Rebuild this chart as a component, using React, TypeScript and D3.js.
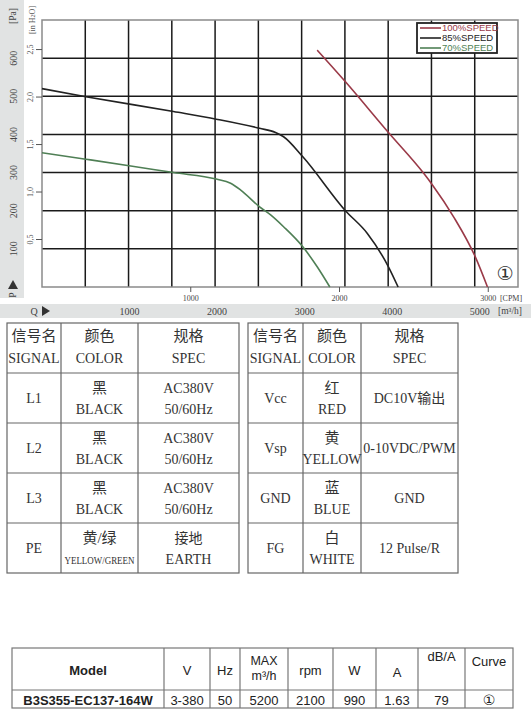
import React from "react";
import * as d3 from "d3";

// ---------- data ----------
const speed100Cfm = [1850, 2040, 2329, 2566, 2626, 2767, 2913, 2995];
const speed100Pa = [621, 538, 405, 298, 267, 184, 79, 0];
const speed85Cfm = [0, 295, 884, 1172, 1463, 1570, 1624, 1752, 2040, 2186, 2329, 2394];
const speed85Pa = [520, 499, 460, 440, 416, 405, 394, 342, 200, 141, 53, 0];
const speed70Cfm = [0, 295, 586, 884, 1172, 1268, 1336, 1463, 1537, 1624, 1752, 1850, 1935];
const speed70Pa = [352, 335, 318, 300, 283, 272, 254, 210, 189, 158, 106, 53, 0];

const seriesNames = ["100%SPEED", "85%SPEED", "70%SPEED"];
const paTicks = [100, 200, 300, 400, 500, 600];
const inH2OTicks = [0.5, 1.0, 1.5, 2.0, 2.5];
const cfmTicks = [1000, 2000, 3000];
const m3hTicks = [1000, 2000, 3000, 4000, 5000];

const leftHeader = [["信号名", "SIGNAL"], ["颜色", "COLOR"], ["规格", "SPEC"]];
const leftRows = [
  ["L1", "黑", "BLACK", "AC380V", "50/60Hz"],
  ["L2", "黑", "BLACK", "AC380V", "50/60Hz"],
  ["L3", "黑", "BLACK", "AC380V", "50/60Hz"],
  ["PE", "黄/绿", "YELLOW/GREEN", "接地", "EARTH"],
];
const rightRows = [
  ["Vcc", "红", "RED", "DC10V输出", ""],
  ["Vsp", "黄", "YELLOW", "0-10VDC/PWM", ""],
  ["GND", "蓝", "BLUE", "GND", ""],
  ["FG", "白", "WHITE", "12 Pulse/R", ""],
];
const specHeader = ["Model", "V", "Hz", "MAX\nm³/h", "rpm", "W", "A", "dB/A", "Curve"];
const specValues = ["B3S355-EC137-164W", "3-380", "50", "5200", "2100", "990", "1.63", "79", "①"];

// ---------- layout ----------
const W = 531, H = 718;
const plot = { left: 42, right: 518, top: 20, bottom: 287 };
const colors = ["#9a3a48", "#222222", "#4f7f55"];
const serif = "'Liberation Serif', 'DejaVu Serif', 'Noto Sans CJK SC', serif";
const sans = "'Liberation Sans', Arial, sans-serif";

export default function App() {
  const x = d3.scaleLinear().domain([0, 3200]).range([plot.left, plot.right]);
  const y = d3.scaleLinear().domain([0, 700]).range([plot.bottom, plot.top]);
  const line = d3
    .line<[number, number]>()
    .x((d) => x(d[0]))
    .y((d) => y(d[1]))
    .curve(d3.curveMonotoneX);
  const series = [
    d3.zip(speed100Cfm, speed100Pa) as [number, number][],
    d3.zip(speed85Cfm, speed85Pa) as [number, number][],
    d3.zip(speed70Cfm, speed70Pa) as [number, number][],
  ];
  const gridX = d3.range(1, 11).map((i) => plot.left + ((plot.right - plot.left) * i) / 11);
  const CFM_PER_M3H = 1 / 1.699;

  const lt = { x: [7, 61, 138, 239], top: 323, header: 373, rowH: 50 };
  const rt = { x: [248, 303, 361, 458], top: 323, header: 373, rowH: 50 };

  const drawTable = (t: typeof lt, rows: string[][], key: string) => {
    const bottom = t.header + rows.length * t.rowH;
    const els: React.ReactNode[] = [];
    els.push(
      <rect key={key + "b"} x={t.x[0]} y={t.top} width={t.x[3] - t.x[0]} height={bottom - t.top}
        fill="none" stroke="#666" strokeWidth={1.2} />
    );
    t.x.slice(1, 3).forEach((cx, i) =>
      els.push(<line key={key + "v" + i} x1={cx} x2={cx} y1={t.top} y2={bottom} stroke="#666" strokeWidth={1.2} />)
    );
    rows.forEach((_, i) =>
      els.push(<line key={key + "h" + i} x1={t.x[0]} x2={t.x[3]} y1={t.header + i * t.rowH} y2={t.header + i * t.rowH} stroke="#666" strokeWidth={1.2} />)
    );
    leftHeader.forEach((h, i) => {
      const cx = (t.x[i] + t.x[i + 1]) / 2;
      els.push(<text key={key + "hc" + i} x={cx} y={341} textAnchor="middle" fontSize={15} fill="#333" fontFamily={serif}>{h[0]}</text>);
      els.push(<text key={key + "he" + i} x={cx} y={363} textAnchor="middle" fontSize={14} fill="#333" fontFamily={serif}>{h[1]}</text>);
    });
    rows.forEach((r, i) => {
      const top = t.header + i * t.rowH;
      const c0 = (t.x[0] + t.x[1]) / 2, c1 = (t.x[1] + t.x[2]) / 2, c2 = (t.x[2] + t.x[3]) / 2;
      const long = r[2].length > 8;
      els.push(<text key={key + "s" + i} x={c0} y={top + 30} textAnchor="middle" fontSize={14} fill="#333" fontFamily={serif}>{r[0]}</text>);
      els.push(<text key={key + "cc" + i} x={c1} y={top + 20} textAnchor="middle" fontSize={15} fill="#333" fontFamily={serif}>{r[1]}</text>);
      els.push(
        <text key={key + "ce" + i} x={c1} y={top + 41} textAnchor="middle" fontSize={long ? 11 : 14} fill="#333" fontFamily={serif}
          {...(long ? { textLength: 70, lengthAdjust: "spacingAndGlyphs" } : {})}>{r[2]}</text>
      );
      if (r[4]) {
        els.push(<text key={key + "p1" + i} x={c2} y={top + 20} textAnchor="middle" fontSize={14} fill="#333" fontFamily={serif}>{r[3]}</text>);
        els.push(<text key={key + "p2" + i} x={c2} y={top + 41} textAnchor="middle" fontSize={14} fill="#333" fontFamily={serif}>{r[4]}</text>);
      } else {
        els.push(<text key={key + "p" + i} x={c2} y={top + 30} textAnchor="middle" fontSize={14} fill="#333" fontFamily={serif}>{r[3]}</text>);
      }
    });
    return els;
  };

  const specX = [12, 164, 210, 240, 288, 333, 376, 418, 465, 513];
  const specTop = 648, specMid = 690, specBottom = 708;

  return (
    <svg width={W} height={H} style={{ position: "absolute", left: 0, top: 0, background: "#fff" }}>
      {/* side bands */}
      <rect x={0} y={0} width={24} height={298} fill="#e1e3e3" />
      <rect x={0} y={304} width={531} height={14} fill="#e1e3e3" />

      {/* grid */}
      {gridX.map((gx, i) => (
        <line key={"gx" + i} x1={gx} x2={gx} y1={plot.top} y2={plot.bottom} stroke="#1a1a1a" strokeWidth={1.5} />
      ))}
      {paTicks.map((p) => (
        <line key={"gy" + p} x1={plot.left} x2={plot.right} y1={y(p)} y2={y(p)} stroke="#1a1a1a" strokeWidth={1.5} />
      ))}
      <rect x={plot.left} y={plot.top} width={plot.right - plot.left} height={plot.bottom - plot.top}
        fill="none" stroke="#8a8a8a" strokeWidth={1.5} />

      {/* curves */}
      {series.map((s, i) => (
        <path key={"s" + i} d={line(s) || ""} fill="none" stroke={colors[i]} strokeWidth={1.6} />
      ))}

      {/* legend */}
      <rect x={417} y={23} width={80} height={30} fill="#fff" stroke="#222" strokeWidth={1.8} />
      {seriesNames.map((n, i) => (
        <g key={"lg" + i}>
          <line x1={420} x2={441} y1={28 + i * 10} y2={28 + i * 10} stroke={colors[i]} strokeWidth={1.6} />
          <text x={442} y={28 + i * 10} dy="0.35em" fontSize={9.5} fill={colors[i]} fontFamily={sans}>{n}</text>
        </g>
      ))}

      {/* curve number */}
      <text x={505} y={273} dy="0.35em" textAnchor="middle" fontSize={19} fill="#333" fontFamily="'DejaVu Sans', sans-serif">①</text>

      {/* Pa axis (left band) */}
      {paTicks.map((p) => (
        <text key={"pa" + p} transform={`translate(13,${y(p)}) rotate(-90)`} textAnchor="middle" dy="0.35em"
          fontSize={10} fill="#444" fontFamily={serif}>{p}</text>
      ))}
      <text transform="translate(13,16) rotate(-90)" textAnchor="middle" dy="0.35em" fontSize={9.5} fill="#444" fontFamily={serif}>[Pa]</text>
      <path d="M8,289 L18,289 L13,280 Z" fill="#333" />
      <text transform="translate(13,295) rotate(-90)" textAnchor="middle" dy="0.35em" fontSize={9.5} fill="#444" fontFamily={serif}>P</text>

      {/* inH2O axis */}
      {inH2OTicks.map((v) => (
        <g key={"in" + v}>
          <line x1={36} x2={plot.left} y1={y(v * 249)} y2={y(v * 249)} stroke="#555" strokeWidth={1} />
          <text transform={`translate(31,${y(v * 249)}) rotate(-90)`} textAnchor="middle" dy="0.3em"
            fontSize={8} fill="#555" fontFamily={serif}>{v.toFixed(1).replace(".", ",")}</text>
        </g>
      ))}
      <text transform="translate(33,20) rotate(-90)" textAnchor="middle" dy="0.3em" fontSize={8} fill="#555" fontFamily={serif}>
        [in H<tspan fontSize={6}>2</tspan>O]
      </text>

      {/* CFM axis */}
      {cfmTicks.map((c) => (
        <g key={"cfm" + c}>
          <line x1={x(c)} x2={x(c)} y1={plot.bottom} y2={plot.bottom + 5} stroke="#555" strokeWidth={1} />
          <text x={x(c)} y={298} textAnchor="middle" dy="0.35em" fontSize={8} fill="#444" fontFamily={serif}>{c}</text>
        </g>
      ))}
      <text x={511} y={298} textAnchor="middle" dy="0.35em" fontSize={8} fill="#444" fontFamily={serif}>[CPM]</text>

      {/* m3/h axis */}
      <text x={34} y={311} textAnchor="middle" dy="0.35em" fontSize={10} fill="#444" fontFamily={serif}>Q</text>
      <path d="M42,306 L42,316 L50,311 Z" fill="#333" />
      {m3hTicks.map((m) => (
        <text key={"m3" + m} x={x(m * CFM_PER_M3H)} y={311} textAnchor="middle" dy="0.35em" fontSize={10} fill="#444" fontFamily={serif}>{m}</text>
      ))}
      <text x={510} y={311} textAnchor="middle" dy="0.35em" fontSize={9.5} fill="#444" fontFamily={serif}>[m³/h]</text>

      {/* signal tables */}
      {drawTable(lt, leftRows, "L")}
      {drawTable(rt, rightRows, "R")}

      {/* spec table */}
      <rect x={specX[0]} y={specTop} width={specX[9] - specX[0]} height={specBottom - specTop} fill="none" stroke="#777" strokeWidth={1.2} />
      <line x1={specX[0]} x2={specX[9]} y1={specMid} y2={specMid} stroke="#777" strokeWidth={1.2} />
      {specX.slice(1, 9).map((sx, i) => (
        <line key={"sv" + i} x1={sx} x2={sx} y1={specTop} y2={specBottom} stroke="#777" strokeWidth={1.2} />
      ))}
      {specHeader.map((h, i) => {
        const cx = (specX[i] + specX[i + 1]) / 2;
        const bold = i === 0;
        if (h.includes("\n")) {
          const [a, b] = h.split("\n");
          return (
            <g key={"sh" + i}>
              <text x={cx} y={661} textAnchor="middle" dy="0.35em" fontSize={12.5} fill="#222" fontFamily={sans}>{a}</text>
              <text x={cx} y={676} textAnchor="middle" dy="0.35em" fontSize={12.5} fill="#222" fontFamily={sans}>{b}</text>
            </g>
          );
        }
        const yy = h === "dB/A" ? 656 : h === "Curve" ? 661 : h === "A" ? 672 : 670;
        return (
          <text key={"sh" + i} x={cx} y={yy} textAnchor="middle" dy="0.35em" fontSize={13} fontWeight={bold ? "bold" : "normal"}
            fill="#222" fontFamily={sans}>{h}</text>
        );
      })}
      {specValues.map((v, i) => {
        const cx = (specX[i] + specX[i + 1]) / 2;
        return (
          <text key={"sd" + i} x={cx} y={700} textAnchor="middle" dy="0.35em" fontSize={i === 8 ? 14 : 13}
            fontWeight={i === 0 ? "bold" : "normal"} fill="#222"
            fontFamily={i === 8 ? "'DejaVu Sans', sans-serif" : sans}>{v}</text>
        );
      })}
    </svg>
  );
}
